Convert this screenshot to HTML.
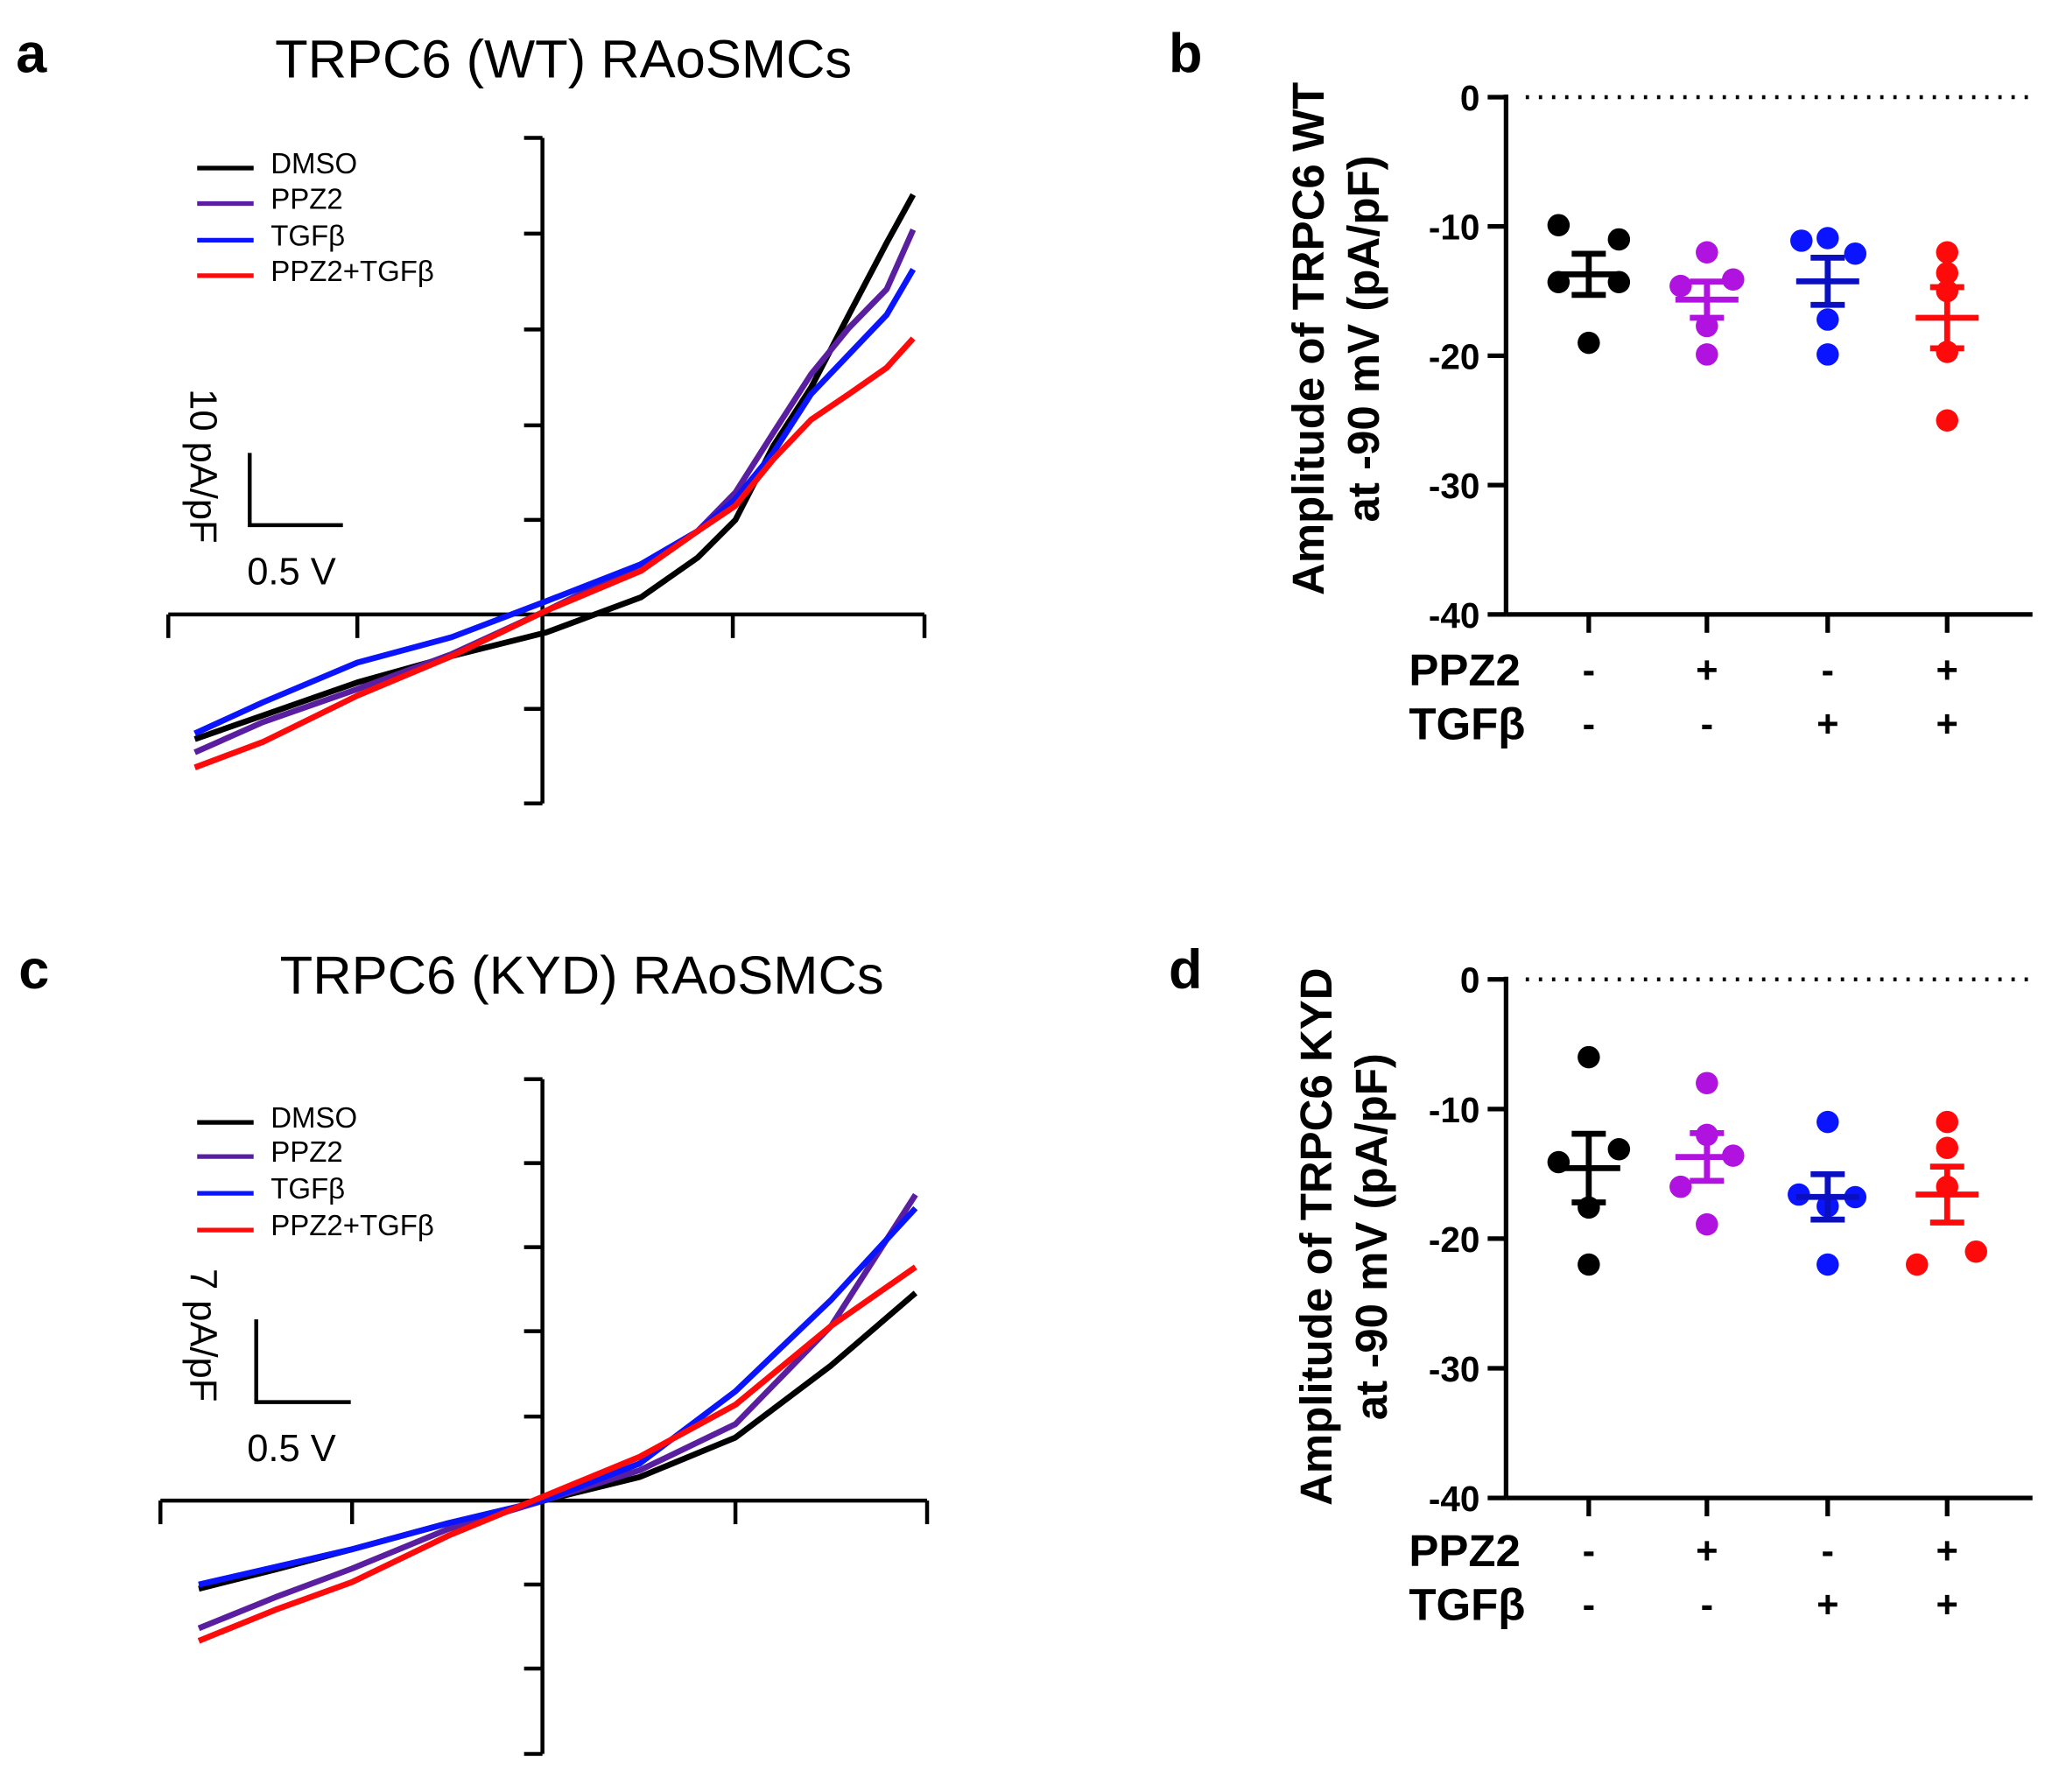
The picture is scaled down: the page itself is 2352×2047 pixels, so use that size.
<!DOCTYPE html>
<html><head><meta charset="utf-8"><style>
html,body{margin:0;padding:0;background:#fff}
svg{display:block}
text{font-family:"Liberation Sans",sans-serif}
</style></head><body>
<svg id="fig" width="2352" height="2047" viewBox="0 0 1568 1365" xmlns="http://www.w3.org/2000/svg">
<rect width="1568" height="1365" fill="#fff"/>
<text x="12" y="55" font-size="42" font-weight="bold">a</text>
<text x="429" y="59" font-size="41" text-anchor="middle">TRPC6 (WT) RAoSMCs</text>
<text x="890" y="55" font-size="42" font-weight="bold">b</text>
<text x="14" y="753" font-size="42" font-weight="bold">c</text>
<text x="443" y="757" font-size="41" text-anchor="middle">TRPC6 (KYD) RAoSMCs</text>
<text x="890" y="753" font-size="42" font-weight="bold">d</text>
<g id="ga"></g>
<g id="gc"></g>
<g id="gb"></g>
<g id="gd"></g>
</svg>
<script>
// ---------- data ----------
const seriesNames = ["DMSO","PPZ2","TGFβ","PPZ2+TGFβ"];
const seriesColors = ["#000000","#5a1fa0","#0a14ff","#ff0a0a"];
const voltsA = [-0.93,-0.75,-0.5,-0.25,0,0.25,0.4,0.5,0.6,0.7,0.8,0.9,0.97];
const aDMSO = [-13.2,-10.7,-7.2,-4.4,-1.9,1.8,6,10,17.8,24,31.7,39.3,44.4];
const aPPZ2 = [-14.6,-11.4,-7.9,-4.2,0.4,5.3,8.8,12.9,19.2,25.4,30.3,34.4,40.7];
const aTGF  = [-12.6,-9.3,-5.1,-2.4,1.4,5.3,8.8,12.2,17.1,23.3,27.5,31.7,36.5];
const aBoth = [-16.2,-13.5,-8.6,-4.4,0.4,4.6,8.8,11.5,16.4,20.6,23.3,26.1,29.2];
const voltsC = [-0.9,-0.7,-0.5,-0.25,0,0.25,0.5,0.75,0.97];
const cDMSO = [-10.5,-8.2,-5.8,-2.7,0,2.8,7.5,16.1,24.7];
const cPPZ2 = [-15.2,-11.5,-8.1,-3.4,0,3.6,9.1,20.8,36.4];
const cTGF  = [-10,-7.9,-5.8,-2.7,0,4.4,13,23.9,34.8];
const cBoth = [-16.7,-13,-9.7,-4.2,0.5,5.2,11.4,20.8,27.8];
const groups = ["g1","g2","g3","g4"];
const ppz2Signs = ["-","+","-","+"];
const tgfSigns = ["-","-","+","+"];
const yTicks = [0,-10,-20,-30,-40];
const bVals = [[-9.9,-11,-14.3,-14.3,-19],[-12,-14.1,-14.6,-17.7,-19.9],[-11.1,-10.9,-12.1,-17.2,-19.9],[-12,-13.6,-15,-19.7,-25]];
const dVals = [[-6,-14.1,-13.1,-17.6,-22],[-8,-12,-13.6,-16,-18.9],[-11,-16.6,-16.8,-22,-17.5],[-11,-13,-22,-21,-16]];
const dotOffsets = [[-23,23,-23,23,0],[0,20,-20,0,0],[-20,0,21,0,0],[0,0,0,0,0]];
const dotOffsetsD = [[0,-23,23,0,0],[0,0,20,-20,0],[0,-22,21,0,0],[0,0,-23,22,0]];
const dotColors = ["#000000","#b012e0","#0a14ff","#ff0a0a"];
const meanColors = ["#000000","#b012e0","#0a10c0","#ff0a0a"];

const NS="http://www.w3.org/2000/svg";
function mk(parent,tag,attrs){const e=document.createElementNS(NS,tag);for(const k in attrs)e.setAttribute(k,attrs[k]);parent.appendChild(e);return e;}

function ivPanel(g,cfg,volts,data){
  const xS=v=>cfg.x0+v*cfg.xs, yS=i=>cfg.y0-i*cfg.ys;
  let a=mk(g,"line",{x1:cfg.ax,y1:cfg.ytop,x2:cfg.ax,y2:cfg.ybot,stroke:"#000","stroke-width":3});
  
  
  cfg.yticks.forEach(t=>{let l=mk(g,"line",{x1:cfg.ax-14,y1:t,x2:cfg.ax,y2:t,stroke:"#000","stroke-width":3});
    
    });
  let b=mk(g,"line",{x1:cfg.xl,y1:cfg.y0,x2:cfg.xr,y2:cfg.y0,stroke:"#000","stroke-width":3});
  
  
  cfg.xticks.forEach(t=>{let l=mk(g,"line",{x1:t,y1:cfg.y0,x2:t,y2:cfg.y0+18,stroke:"#000","stroke-width":3});
    
    });
  data.forEach((s,k)=>{
    const pts=volts.map((v,i)=>xS(v).toFixed(1)+","+yS(s[i]).toFixed(1)).join(" ");
    let p=mk(g,"polyline",{points:pts,fill:"none",stroke:seriesColors[k],"stroke-width":4.5,"stroke-linejoin":"round"});
    
    
  });
  seriesNames.forEach((n,k)=>{
    const y=cfg.legY[k];
    let l=mk(g,"line",{x1:150,y1:y,x2:193,y2:y,stroke:seriesColors[k],"stroke-width":3.5});
    
    
    let t=mk(g,"text",{x:206,y:y+4,"font-size":22});t.textContent=n;
    
    
  });
  let sv=mk(g,"polyline",{points:`${cfg.sbx},${cfg.sbTop} ${cfg.sbx},${cfg.sbBot} ${cfg.sbR},${cfg.sbBot}`,fill:"none",stroke:"#000","stroke-width":3});
  
  
  let t1=mk(g,"text",{x:0,y:0,"font-size":29,transform:`translate(${cfg.sbLx},${cfg.sbLy}) rotate(90)`,"text-anchor":"middle"});
  t1.textContent=cfg.sbLabel;
  
  
  let t2=mk(g,"text",{x:188,y:cfg.sbBot+45,"font-size":29});t2.textContent="0.5 V";
  
  
}

ivPanel(document.getElementById("ga"),{x0:416,xs:288,y0:468,ys:7.2,ax:413,ytop:105,ybot:612,
  yticks:[105,178,251,324,396,540,612],xl:128,xr:704,xticks:[128,272,558,704],legY:[128,155,183,210],
  sbx:190,sbTop:345,sbBot:400,sbR:261,sbLx:145,sbLy:355,sbLabel:"10 pA/pF"},voltsA,[aDMSO,aPPZ2,aTGF,aBoth]);
ivPanel(document.getElementById("gc"),{x0:414,xs:292,y0:1143,ys:6.4,ax:413,ytop:822,ybot:1336,
  yticks:[822,886,950,1014,1079,1207,1271,1336],xl:122,xr:706,xticks:[122,268,560,706],legY:[855,881,909,937],
  sbx:195,sbTop:1005,sbBot:1068,sbR:267,sbLx:145,sbLy:1017,sbLabel:"7 pA/pF"},voltsC,[cDMSO,cPPZ2,cTGF,cBoth]);

function scatterPanel(g,cfg,vals,offs){
  const yS=v=>cfg.y0+(-v)*(cfg.y40-cfg.y0)/40;
  const catX=[1210,1300,1392,1483];
  let dl=mk(g,"line",{x1:1162,y1:cfg.y0,x2:1546,y2:cfg.y0,stroke:"#000","stroke-width":3,"stroke-dasharray":"2.5 7.5"});
  
  
  let ya=mk(g,"line",{x1:1147,y1:cfg.y0-2,x2:1147,y2:cfg.y40,stroke:"#000","stroke-width":3.5});
  
  
  let xa=mk(g,"line",{x1:1147,y1:cfg.y40,x2:1548,y2:cfg.y40,stroke:"#000","stroke-width":3.5});
  
  
  yTicks.forEach(t=>{const y=yS(t);
    let l=mk(g,"line",{x1:1133,y1:y,x2:1147,y2:y,stroke:"#000","stroke-width":3.5});
    
    
    let tx=mk(g,"text",{x:1127,y:y+10,"font-size":27,"font-weight":"bold","text-anchor":"end"});tx.textContent=t;
    
    });
  groups.forEach((gname,k)=>{
    const x=catX[k];
    let tk=mk(g,"line",{x1:x,y1:cfg.y40,x2:x,y2:cfg.y40+14,stroke:"#000","stroke-width":3.5});
    
    
    const v=vals[k];
    v.forEach((d,i)=>{let c=mk(g,"circle",{cx:x+offs[k][i],cy:yS(d),r:8.5,fill:dotColors[k]});
      
      });
    const m=v.reduce((a,b)=>a+b,0)/v.length;
    const sd=Math.sqrt(v.reduce((a,b)=>a+(b-m)*(b-m),0)/(v.length-1));
    const se=sd/Math.sqrt(v.length);
    const col=meanColors[k];
    let ml=mk(g,"line",{x1:x-24,y1:yS(m),x2:x+24,y2:yS(m),stroke:col,"stroke-width":4.5});
    
    
    let eb=mk(g,"path",{d:`M${x},${yS(m+se)}V${yS(m-se)}M${x-13},${yS(m+se)}H${x+13}M${x-13},${yS(m-se)}H${x+13}`,stroke:col,"stroke-width":4.5,fill:"none"});
    
    
    let s1=mk(g,"text",{x:x,y:cfg.row1+10,"font-size":29,"font-weight":"bold","text-anchor":"middle"});s1.textContent=ppz2Signs[k];
    
    
    let s2=mk(g,"text",{x:x,y:cfg.row2+10,"font-size":29,"font-weight":"bold","text-anchor":"middle"});s2.textContent=tgfSigns[k];
    
    
  });
  let r1=mk(g,"text",{x:1073,y:cfg.row1+12,"font-size":34,"font-weight":"bold"});r1.textContent="PPZ2";
  
  
  let r2=mk(g,"text",{x:1073,y:cfg.row2+12,"font-size":34,"font-weight":"bold"});r2.textContent="TGFβ";
  
  
  let yt=mk(g,"text",{x:0,y:0,"font-size":34,"font-weight":"bold","text-anchor":"middle",transform:`translate(${cfg.tx},${cfg.ty}) rotate(-90)`});
  
  
  let ts1=mk(yt,"tspan",{x:0,dy:0});ts1.textContent=cfg.title;
  let ts2=mk(yt,"tspan",{x:0,dy:42});ts2.textContent="at -90 mV (pA/pF)";
}
scatterPanel(document.getElementById("gb"),{y0:74,y40:468,row1:510,row2:551,tx:1008,ty:258,title:"Amplitude of TRPC6 WT"},bVals,dotOffsets);
scatterPanel(document.getElementById("gd"),{y0:746,y40:1141,row1:1181,row2:1222,tx:1014,ty:942,title:"Amplitude of TRPC6 KYD"},dVals,dotOffsetsD);
</script>
</body></html>
